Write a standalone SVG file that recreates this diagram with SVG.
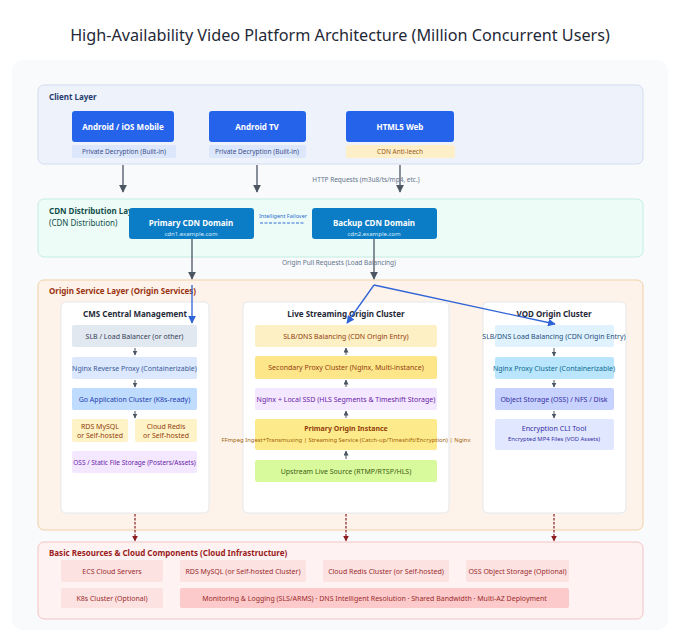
<svg xmlns="http://www.w3.org/2000/svg" width="680" height="633" viewBox="0 0 680 633">
<defs>
<style>
text{font-family:"Noto Sans","Open Sans",sans-serif;}
.t{font-size:16.2px;fill:#1f2937;text-anchor:middle;}
.lt{font-size:8px;font-weight:bold;}
.nb{font-size:8px;font-weight:bold;fill:#fff;text-anchor:middle;}
.s{font-size:6.5px;text-anchor:middle;}
.n{font-size:7px;text-anchor:middle;}
.ct{font-size:8px;font-weight:bold;fill:#1f2937;text-anchor:middle;}
.lbl{font-size:6.5px;fill:#64748b;text-anchor:middle;}
.col{fill:#fff;stroke:#e5e7eb;stroke-width:1;}
.ar{stroke:#4b5563;stroke-width:1.3;fill:none;}
.sa{stroke:#4b5563;stroke-width:1;fill:none;}
.ba{stroke:#2f63d6;stroke-width:1.3;fill:none;}
.ra{stroke:#8b1e1e;stroke-width:1.2;stroke-dasharray:2.5,1.5;fill:none;}
.rb{fill:#fde2e2;}
.rt{font-size:7px;fill:#9b2c2c;text-anchor:middle;}
</style>
<marker id="ag" viewBox="0 0 10 10" refX="9" refY="5" markerWidth="6" markerHeight="6" orient="auto"><path d="M0,0 L10,5 L0,10 z" fill="#4b5563"/></marker>
<marker id="ags" viewBox="0 0 10 10" refX="9" refY="5" markerWidth="5" markerHeight="5" orient="auto"><path d="M0,0 L10,5 L0,10 z" fill="#4b5563"/></marker>
<marker id="ab" viewBox="0 0 10 10" refX="9" refY="5" markerWidth="6" markerHeight="6" orient="auto"><path d="M0,0 L10,5 L0,10 z" fill="#2f63d6"/></marker>
<marker id="ar" viewBox="0 0 10 10" refX="9" refY="5" markerWidth="5" markerHeight="5" orient="auto"><path d="M0,0 L10,5 L0,10 z" fill="#8b1e1e"/></marker>
</defs>
<rect width="680" height="633" fill="#ffffff"/>
<text class="t" x="340" y="41">High-Availability Video Platform Architecture (Million Concurrent Users)</text>
<rect x="12" y="60" width="656" height="570" rx="10" fill="#f8fafc"/>

<g id="client-layer">
<rect x="38" y="85" width="605" height="79" rx="6" fill="#eef2fb" stroke="#d3dcef"/>
<text class="lt" x="49" y="100" fill="#1e3a6e">Client Layer</text>
</g>
<g id="mobile">
<rect x="72" y="111" width="102" height="31" rx="3" fill="#2563eb"/>
<text class="nb" x="123" y="130">Android / iOS Mobile</text>
<rect x="72" y="145" width="104" height="13" rx="2" fill="#dde7fb"/>
<text class="s" x="124" y="154" fill="#3b4f8a">Private Decryption (Built-in)</text>
</g>
<g id="androidtv">
<rect x="209" y="111" width="97" height="31" rx="3" fill="#2563eb"/>
<text class="nb" x="257" y="130">Android TV</text>
<rect x="209" y="145" width="97" height="13" rx="2" fill="#dde7fb"/>
<text class="s" x="257" y="154" fill="#3b4f8a">Private Decryption (Built-in)</text>
</g>
<g id="html5">
<rect x="346" y="111" width="108" height="31" rx="3" fill="#2563eb"/>
<text class="nb" x="400" y="130">HTML5 Web</text>
<rect x="346" y="145" width="109" height="13" rx="2" fill="#fdf0c8"/>
<text class="s" x="400" y="154" fill="#9a5a1a">CDN Anti-leech</text>
</g>

<g id="cdn-layer">
<rect x="38" y="199" width="605" height="58" rx="6" fill="#edfcf7" stroke="#c4eedf"/>
<text class="lt" x="49" y="214" fill="#134e4a">CDN Distribution Layer</text>
<text x="49" y="226" style="font-size:8px" fill="#134e4a">(CDN Distribution)</text>
</g>
<g id="primary-cdn">
<rect x="129" y="208" width="125" height="31" rx="3" fill="#0b7cc6"/>
<text class="nb" x="191" y="226">Primary CDN Domain</text>
<text class="s" x="191" y="236" fill="#dbeefa" style="font-size:6px">cdn1.example.com</text>
</g>
<g id="backup-cdn">
<rect x="312" y="208" width="125" height="31" rx="3" fill="#0b7cc6"/>
<text class="nb" x="374" y="226">Backup CDN Domain</text>
<text class="s" x="374" y="236" fill="#dbeefa" style="font-size:6px">cdn2.example.com</text>
</g>

<g id="origin-layer">
<rect x="38" y="280" width="605" height="250" rx="6" fill="#fdf3ea" stroke="#f2cfa5"/>
<text class="lt" x="49" y="294" fill="#9a3412">Origin Service Layer (Origin Services)</text>
</g>

<g id="cms">
<rect class="col" x="61" y="302" width="148" height="211" rx="5"/>
<text class="ct" x="135" y="317">CMS Central Management</text>
</g>
<g id="cms-slb"><rect x="72" y="325" width="125" height="22" rx="2" fill="#e2e8f0"/><text class="n" x="134.5" y="339" fill="#334155">SLB / Load Balancer (or other)</text></g>
<g id="cms-nginx"><rect x="72" y="357" width="125" height="22" rx="2" fill="#dbe8fd"/><text class="n" x="134.5" y="371" fill="#3d5a99">Nginx Reverse Proxy (Containerizable)</text></g>
<g id="cms-go"><rect x="72" y="388" width="125" height="22" rx="2" fill="#bfdbfe"/><text class="n" x="134.5" y="402" fill="#1e40af">Go Application Cluster (K8s-ready)</text></g>
<g id="cms-rds"><rect x="72" y="419" width="56" height="23" rx="2" fill="#fef3c7"/><text class="n" x="100" y="429" fill="#92400e">RDS MySQL</text><text class="n" x="100" y="438" fill="#92400e">or Self-hosted</text></g>
<g id="cms-redis"><rect x="135" y="419" width="62" height="23" rx="2" fill="#fef3c7"/><text class="n" x="166" y="429" fill="#92400e">Cloud Redis</text><text class="n" x="166" y="438" fill="#92400e">or Self-hosted</text></g>
<g id="cms-oss"><rect x="72" y="451" width="125" height="22" rx="2" fill="#f3e8ff"/><text class="n" x="134.5" y="465" fill="#6b21a8" style="font-size:6.5px">OSS / Static File Storage (Posters/Assets)</text></g>

<g id="live">
<rect class="col" x="243" y="302" width="206" height="211" rx="5"/>
<text class="ct" x="346" y="317">Live Streaming Origin Cluster</text>
</g>
<g id="live-slb"><rect x="255" y="325" width="182" height="22" rx="2" fill="#fdf0c4"/><text class="n" x="346" y="339" fill="#92400e">SLB/DNS Balancing (CDN Origin Entry)</text></g>
<g id="live-proxy"><rect x="255" y="356" width="182" height="23" rx="2" fill="#fde68a"/><text class="n" x="346" y="370" fill="#92400e">Secondary Proxy Cluster (Nginx, Multi-instance)</text></g>
<g id="live-ssd"><rect x="255" y="388" width="182" height="22" rx="2" fill="#f3e8ff"/><text class="n" x="346" y="402" fill="#6b21a8">Nginx + Local SSD (HLS Segments &amp; Timeshift Storage)</text></g>
<g id="live-primary"><rect x="255" y="419" width="182" height="31" rx="2" fill="#fdea8a"/><text class="n" x="346" y="431" fill="#92400e" style="font-weight:bold">Primary Origin Instance</text><text class="n" x="346" y="442" fill="#a16207" style="font-size:5.9px">FFmpeg Ingest+Transmuxing | Streaming Service (Catch-up/Timeshift/Encryption) | Nginx</text></g>
<g id="live-src"><rect x="255" y="460" width="182" height="22" rx="2" fill="#d9f99d"/><text class="n" x="346" y="474" fill="#3f6212">Upstream Live Source (RTMP/RTSP/HLS)</text></g>

<g id="vod">
<rect class="col" x="483" y="302" width="143" height="211" rx="5"/>
<text class="ct" x="554" y="317">VOD Origin Cluster</text>
</g>
<g id="vod-slb"><rect x="495" y="325" width="119" height="22" rx="2" fill="#e0f2fe"/><text class="n" x="554" y="339" fill="#1e4f7a">SLB/DNS Load Balancing (CDN Origin Entry)</text></g>
<g id="vod-nginx"><rect x="495" y="357" width="119" height="22" rx="2" fill="#bae6fd"/><text class="n" x="554" y="371" fill="#0e6a8f">Nginx Proxy Cluster (Containerizable)</text></g>
<g id="vod-oss"><rect x="495" y="388" width="119" height="22" rx="2" fill="#c7d2fe"/><text class="n" x="554" y="402" fill="#3730a3">Object Storage (OSS) / NFS / Disk</text></g>
<g id="vod-enc"><rect x="495" y="419" width="119" height="31" rx="2" fill="#e0e7ff"/><text class="n" x="554" y="431" fill="#3730a3" style="font-size:7.2px">Encryption CLI Tool</text><text class="n" x="554" y="441" fill="#3730a3" style="font-size:5.9px">Encrypted MP4 Files (VOD Assets)</text></g>

<g id="infra-layer">
<rect x="38" y="542" width="605" height="77" rx="6" fill="#fef2f2" stroke="#f5c4c4"/>
<text class="lt" x="49" y="556" fill="#991b1b">Basic Resources &amp; Cloud Components (Cloud Infrastructure)</text>
</g>
<g id="ecs"><rect class="rb" x="61" y="560" width="102" height="22" rx="2"/><text class="rt" x="112" y="574">ECS Cloud Servers</text></g>
<g id="rds"><rect class="rb" x="180" y="560" width="126" height="22" rx="2"/><text class="rt" x="243" y="574">RDS MySQL (or Self-hosted Cluster)</text></g>
<g id="redis"><rect class="rb" x="323" y="560" width="126" height="22" rx="2"/><text class="rt" x="386" y="574">Cloud Redis Cluster (or Self-hosted)</text></g>
<g id="oss"><rect class="rb" x="466" y="560" width="103" height="22" rx="2"/><text class="rt" x="517.5" y="574">OSS Object Storage (Optional)</text></g>
<g id="k8s"><rect class="rb" x="61" y="588" width="102" height="20" rx="2"/><text class="rt" x="112" y="601">K8s Cluster (Optional)</text></g>
<g id="monitoring"><rect x="180" y="588" width="389" height="20" rx="2" fill="#fccaca"/><text class="rt" x="374.5" y="601">Monitoring &amp; Logging (SLS/ARMS) · DNS Intelligent Resolution · Shared Bandwidth · Multi-AZ Deployment</text></g>

<g id="connectors">
<line class="ar" x1="123" y1="165" x2="123" y2="192" marker-end="url(#ag)"/>
<line class="ar" x1="257" y1="165" x2="257" y2="192" marker-end="url(#ag)"/>
<line class="ar" x1="400" y1="165" x2="400" y2="192" marker-end="url(#ag)"/>
<text class="lbl" x="366" y="182">HTTP Requests (m3u8/ts/mp4, etc.)</text>
<line x1="260" y1="223" x2="304" y2="223" stroke="#2f6fd0" stroke-width="1" stroke-dasharray="3,1.5"/>
<text x="283" y="218" style="font-size:5.5px" fill="#2f6fd0" text-anchor="middle">Intelligent Failover</text>
<line class="ar" x1="192" y1="239" x2="192" y2="279" marker-end="url(#ag)"/>
<line class="ar" x1="374" y1="239" x2="374" y2="279" marker-end="url(#ag)"/>
<text class="lbl" x="339" y="265">Origin Pull Requests (Load Balancing)</text>
<line class="ba" x1="192" y1="285" x2="192" y2="323" marker-end="url(#ab)"/>
<line class="ba" x1="374" y1="285" x2="347" y2="323" marker-end="url(#ab)"/>
<line class="ba" x1="374" y1="285" x2="555" y2="324" marker-end="url(#ab)"/>
<line class="sa" x1="135" y1="348" x2="135" y2="355" marker-end="url(#ags)"/>
<line class="sa" x1="135" y1="380" x2="135" y2="387" marker-end="url(#ags)"/>
<line class="sa" x1="135" y1="411" x2="135" y2="418" marker-end="url(#ags)"/>
<line class="sa" x1="346" y1="355" x2="346" y2="348" marker-end="url(#ags)"/>
<line class="sa" x1="346" y1="387" x2="346" y2="380" marker-end="url(#ags)"/>
<line class="sa" x1="346" y1="418" x2="346" y2="411" marker-end="url(#ags)"/>
<line class="sa" x1="346" y1="459" x2="346" y2="451" marker-end="url(#ags)"/>
<line class="sa" x1="554" y1="348" x2="554" y2="356" marker-end="url(#ags)"/>
<line class="sa" x1="554" y1="380" x2="554" y2="387" marker-end="url(#ags)"/>
<line class="sa" x1="554" y1="411" x2="554" y2="418" marker-end="url(#ags)"/>
<line class="ra" x1="135" y1="514" x2="135" y2="541" marker-end="url(#ar)"/>
<line class="ra" x1="346" y1="514" x2="346" y2="541" marker-end="url(#ar)"/>
<line class="ra" x1="554" y1="514" x2="554" y2="541" marker-end="url(#ar)"/>
</g>
</svg>
